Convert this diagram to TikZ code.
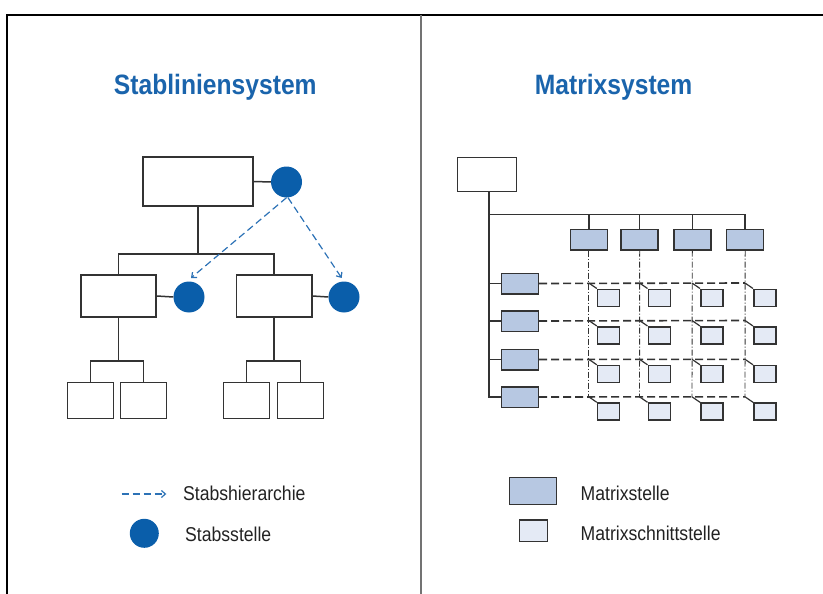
\documentclass[tikz,border=0pt]{standalone}
\usepackage{fontspec}
\setmainfont{Liberation Sans}
\newfontfamily\cfont[FakeStretch=0.88]{Liberation Sans}
\usetikzlibrary{arrows.meta}
\definecolor{cblue}{HTML}{0A5EAA}
\definecolor{tblue}{HTML}{1A64AC}
\definecolor{dblue}{HTML}{2C72B6}
\definecolor{linec}{HTML}{333333}
\definecolor{mfill}{HTML}{B7C8E2}
\definecolor{sfill}{HTML}{E4EAF5}
\definecolor{textc}{HTML}{222222}
\begin{document}
\begin{tikzpicture}[x=1pt,y=-1pt,
  box/.style={draw=linec, line width=1.5pt, fill=white, inner sep=0pt},
  mbox/.style={draw=linec, line width=1.5pt, fill=mfill, inner sep=0pt, minimum width=37pt, minimum height=20.5pt},
  sbox/.style={draw=linec, line width=1.5pt, fill=sfill, inner sep=0pt, minimum width=22pt, minimum height=17pt},
  stab/.style={circle, fill=cblue, inner sep=0pt, minimum size=31pt},
  conn/.style={draw=linec, line width=1.5pt},
  dasharrow/.style={draw=dblue, line width=1.2pt, dash pattern=on 7pt off 4pt, -{Straight Barb[length=4pt,width=7pt]}},
  colline/.style={draw=linec, line width=0.9pt, dash pattern=on 6pt off 2pt on 1pt off 2pt},
  rowline/.style={draw=linec, line width=1.6pt, dash pattern=on 8pt off 4pt},
  diag/.style={draw=linec, line width=1.2pt},
  title/.style={font=\cfont\bfseries\fontsize{28}{32}\selectfont, text=tblue, inner sep=0pt},
  lab/.style={font=\cfont\fontsize{20}{24}\selectfont, text=textc, inner sep=0pt}]
\useasboundingbox (0,0) rectangle (823,594);
% frame
\coordinate (f1) at (7,594);
\coordinate (f2) at (7,15);
\coordinate (f3) at (823,15);
\coordinate (m1) at (421,15);
\coordinate (m2) at (421,594);
\draw[line width=2pt, black] (f1) -- (f2) -- (f3);
\draw[line width=1.6pt, gray!90!black] (m1) -- (m2);
% titles
\node[title, anchor=base] (tl) at (215.3,95) {Stabliniensystem};
\node[title, anchor=base] (tr) at (613.6,95) {Matrixsystem};
% ---------- left: Stabliniensystem ----------
\node[box, minimum width=110pt, minimum height=49pt] (T) at (198,181.5) {};
\node[stab] (C0) at (286.5,182) {};
\node[box, minimum width=75pt, minimum height=42pt] (ML) at (118.5,296) {};
\node[stab] (C1) at (189,297) {};
\node[box, minimum width=75.5pt, minimum height=42pt] (MR) at (274,296) {};
\node[stab] (C2) at (344,297) {};
\node[box, minimum width=46pt, minimum height=35.6pt] (LL) at (90.3,400.5) {};
\node[box, minimum width=46pt, minimum height=35.6pt] (LR) at (143.7,400.5) {};
\node[box, minimum width=46pt, minimum height=35.6pt] (RL) at (246.3,400.5) {};
\node[box, minimum width=46pt, minimum height=35.6pt] (RR) at (300.3,400.5) {};
\coordinate (busA) at (0,254);
\coordinate (busL) at (0,361);
\draw[conn] (T.south) -- (T.south |- busA);
\draw[conn] (ML.north) -- (ML.north |- busA) -| (MR.north);
\draw[conn] (ML.south) -- (ML.south |- busL);
\draw[conn] (LL.north) -- (LL.north |- busL) -| (LR.north);
\draw[conn] (MR.south) -- (MR.south |- busL);
\draw[conn] (RL.north) -- (RL.north |- busL) -| (RR.north);
\draw[conn] (T.east) -- (C0.west);
\draw[conn] (ML.east) -- (C1.west);
\draw[conn] (MR.east) -- (C2.west);
\coordinate (a1) at (191,278);
\coordinate (a2) at (341.7,278);
\draw[dasharrow] (C0.south) -- (a1);
\draw[dasharrow] ([xshift=1.5pt]C0.south) -- (a2);
% legend left
\coordinate (la1) at (121.5,494);
\coordinate (la2) at (166.3,494);
\draw[dasharrow] (la1) -- (la2);
\node[lab, anchor=base west] (lt1) at (183,500.7) {Stabshierarchie};
\node[stab, minimum size=29pt] (LC) at (144.3,533.3) {};
\node[lab, anchor=base west] (lt2) at (185,541) {Stabsstelle};
% ---------- right: Matrixsystem ----------
\node[box, minimum width=59.4pt, minimum height=34.4pt] (R0) at (487,174.5) {};
\coordinate (trk) at (489,0);
\coordinate (busR) at (0,214.3);
\node[mbox] (M1) at (588.8,239.7) {};
\node[mbox] (M2) at (639.7,239.7) {};
\node[mbox] (M3) at (692.3,239.7) {};
\node[mbox] (M4) at (745.2,239.7) {};
\node[mbox, minimum width=36.6pt] (N1) at (520,283.5) {};
\node[mbox, minimum width=36.6pt] (N2) at (520,321) {};
\node[mbox, minimum width=36.6pt] (N3) at (520,359.5) {};
\node[mbox, minimum width=36.6pt] (N4) at (520,397) {};
\foreach \i/\y in {1/283,2/320.5,3/359.3,4/396.8}{
  \foreach \j/\x in {1/588.8,2/639.5,3/692,4/745}{
    \coordinate (X-\i-\j) at (\x,\y);
  }
}
% trunk and bus
\draw[conn] (R0.south -| trk) -- (trk |- N4.west) -- (N4.west);
\draw[conn] (trk |- N1.west) -- (N1.west);
\draw[conn] (trk |- N2.west) -- (N2.west);
\draw[conn] (trk |- N3.west) -- (N3.west);
\draw[conn] (trk |- busR) -- (M4.north |- busR) -- (M4.north);
\draw[conn] (M1.north |- busR) -- (M1.north);
\draw[conn] (M2.north |- busR) -- (M2.north);
\draw[conn] (M3.north |- busR) -- (M3.north);
% grid lines
\foreach \j in {1,2,3,4}{
  \draw[colline] (M\j.south) -- (X-4-\j);
}
\foreach \i in {1,2,3,4}{
  \draw[rowline] (N\i.east) -- (X-\i-4);
}
% small boxes
\foreach \i in {1,2,3,4}{
  \foreach \j in {1,2,3,4}{
    \node[sbox, anchor=north west] (S-\i-\j) at ([xshift=8pt,yshift=-5.5pt]X-\i-\j) {};
    \draw[diag] (X-\i-\j) -- (S-\i-\j.north west);
  }
}
% legend right
\node[mbox, minimum width=47pt, minimum height=27pt] (LM) at (533,490.8) {};
\node[lab, anchor=base west] (lt3) at (580.5,500.3) {Matrixstelle};
\node[sbox, minimum width=28pt, minimum height=21.7pt] (LS) at (533.3,530.8) {};
\node[lab, anchor=base west] (lt4) at (580.5,540.7) {Matrixschnittstelle};
\end{tikzpicture}
\end{document}
